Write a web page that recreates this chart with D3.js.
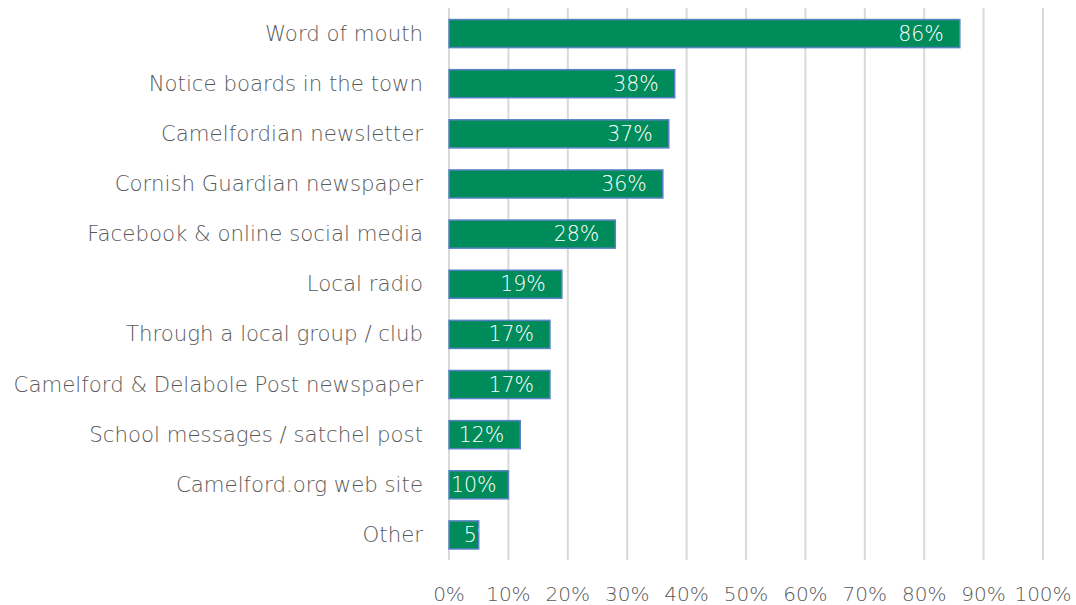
<!DOCTYPE html>
<html><head><meta charset="utf-8">
<script src="https://cdn.jsdelivr.net/npm/d3@7"></script>
<style>body{margin:0;background:#fff}svg{display:block}</style>
</head><body>
<svg id="c" width="1076" height="605"></svg>
<script>
const categories = ["Word of mouth","Notice boards in the town","Camelfordian newsletter","Cornish Guardian newspaper","Facebook & online social media","Local radio","Through a local group / club","Camelford & Delabole Post newspaper","School messages / satchel post","Camelford.org web site","Other"];
const values = [86,38,37,36,28,19,17,17,12,10,5];
const tickValues = [0,10,20,30,40,50,60,70,80,90,100];

const svg = d3.select("#c");
const font = "'DejaVu Sans', sans-serif";
const fw = 200;
const x = d3.scaleLinear().domain([0,100]).range([449,1043]);
const y = d3.scaleBand().domain(categories).range([8.5,560]).paddingInner(0.44).paddingOuter(0.22);

svg.append("g").selectAll("line").data(tickValues).join("line")
  .attr("x1",d=>x(d)).attr("x2",d=>x(d)).attr("y1",8).attr("y2",560)
  .attr("stroke","#d9d9d9").attr("stroke-width",2);

const defs = svg.append("defs");
categories.forEach((c,i)=>{
  defs.append("clipPath").attr("id","cl"+i).append("rect")
    .attr("x",x(0)).attr("y",y(c)).attr("width",x(values[i])-x(0)).attr("height",y.bandwidth());
});

svg.append("g").selectAll("rect").data(categories).join("rect")
  .attr("x",x(0)).attr("y",d=>y(d)).attr("width",(d,i)=>x(values[i])-x(0)).attr("height",y.bandwidth())
  .attr("fill","#008c5a").attr("stroke","#5b82c6").attr("stroke-width",1.5);

const lbl = svg.append("g").selectAll("text").data(categories).join("text")
  .attr("clip-path",(d,i)=>"url(#cl"+i+")")
  .attr("y",d=>y(d)+y.bandwidth()/2+1)
  .attr("text-anchor","start").attr("dominant-baseline","middle")
  .attr("fill","#fff").attr("font-family",font).attr("font-weight",fw).attr("font-size",20.5)
  .text((d,i)=>values[i]+"%");
lbl.each(function(d,i){
  const w = this.getComputedTextLength();
  const x0 = x(0), x1 = x(values[i]), bw = x1-x0;
  let sx;
  if (bw >= w + 18) sx = x1 - 16 - w;
  else if (bw >= w) sx = x0 + 2;
  else sx = x0 + bw/2;
  d3.select(this).attr("x", sx);
});

svg.append("g").selectAll("text").data(categories).join("text")
  .attr("x",423).attr("y",d=>y(d)+y.bandwidth()/2+1)
  .attr("text-anchor","end").attr("dominant-baseline","middle")
  .attr("fill","#595959").attr("font-family",font).attr("font-weight",fw).attr("font-size",21.3)
  .text(d=>d);

svg.append("g").selectAll("text").data(tickValues).join("text")
  .attr("x",d=>x(d)).attr("y",595)
  .attr("text-anchor","middle").attr("dominant-baseline","middle")
  .attr("fill","#595959").attr("font-family",font).attr("font-weight",fw).attr("font-size",20)
  .text(d=>d+"%");
</script>
</body></html>
